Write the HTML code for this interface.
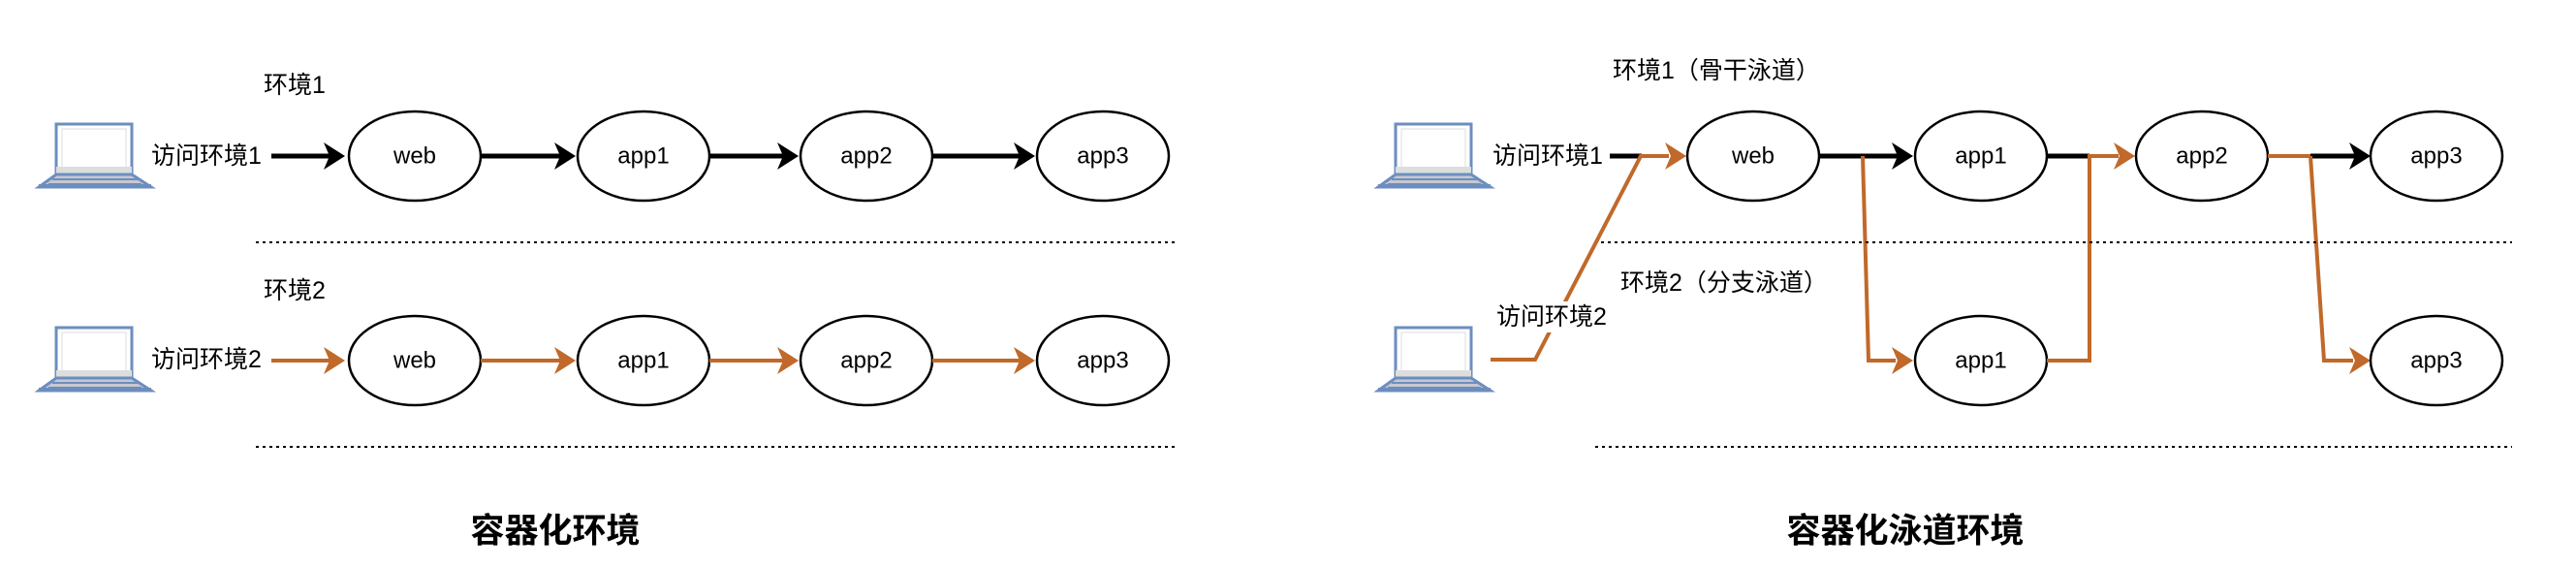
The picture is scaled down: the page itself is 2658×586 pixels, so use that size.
<!DOCTYPE html>
<html><head><meta charset="utf-8"><style>
html,body{margin:0;padding:0;background:#fff;}
svg{display:block;}
text{font-family:"Liberation Sans","Noto Sans CJK SC",sans-serif;}
</style></head><body>
<svg width="2658" height="586" viewBox="0 0 2658 586" xmlns="http://www.w3.org/2000/svg">
<defs>
<marker id="ab" markerWidth="10" markerHeight="10" refX="9" refY="5" orient="auto" markerUnits="userSpaceOnUse" viewBox="0 0 10 10">
</marker>
<g id="laptop">
<rect x="18" y="0" width="78" height="52" fill="#fff" stroke="#6c8ebf" stroke-width="3"/>
<rect x="24" y="5" width="66" height="42" fill="#fff" stroke="#ddd" stroke-width="1"/>
<rect x="18" y="44" width="78" height="8" fill="#ddd"/>
<polygon points="18,52 96,52 116,65 0,65" fill="#c8c8d0" stroke="#6c8ebf" stroke-width="3"/>
<line x1="14" y1="57" x2="102" y2="57" stroke="#6c8ebf" stroke-width="2"/>
<line x1="10" y1="62" x2="106" y2="62" stroke="#6c8ebf" stroke-width="2"/>
<rect x="0" y="62" width="116" height="3" fill="#6c8ebf"/>
</g>
</defs>

<style>
.e{fill:#fff;stroke:#000;stroke-width:2.5}
.n{font-size:24px;text-anchor:middle;dominant-baseline:central}
.l{font-size:25px;dominant-baseline:central}
.k{stroke:#000;stroke-width:5;fill:none}
.o{stroke:#c0692a;stroke-width:4;fill:none}
.d{stroke:#000;stroke-width:2;stroke-dasharray:3,4}
</style>

<!-- LEFT -->
<text class="l" x="272" y="88">环境1</text>
<use href="#laptop" x="40" y="128"/>
<text class="l" x="156" y="161">访问环境1</text>
<line class="k" x1="280" y1="161" x2="340" y2="161"/>
<polygon points="356,161 334,147 340,161 334,175" fill="#000"/>
<ellipse class="e" cx="428" cy="161" rx="68" ry="46"/><text class="n" x="428" y="161">web</text>
<line class="k" x1="496" y1="161" x2="580" y2="161"/>
<polygon points="594,161 572,147 578,161 572,175" fill="#000"/>
<ellipse class="e" cx="664" cy="161" rx="68" ry="46"/><text class="n" x="664" y="161">app1</text>
<line class="k" x1="732" y1="161" x2="810" y2="161"/>
<polygon points="824,161 802,147 808,161 802,175" fill="#000"/>
<ellipse class="e" cx="894" cy="161" rx="68" ry="46"/><text class="n" x="894" y="161">app2</text>
<line class="k" x1="962" y1="161" x2="1054" y2="161"/>
<polygon points="1068,161 1046,147 1052,161 1046,175" fill="#000"/>
<ellipse class="e" cx="1138" cy="161" rx="68" ry="46"/><text class="n" x="1138" y="161">app3</text>
<line class="d" x1="264" y1="250" x2="1216" y2="250"/>

<text class="l" x="272" y="300">环境2</text>
<use href="#laptop" x="40" y="338"/>
<text class="l" x="156" y="371">访问环境2</text>
<line class="o" x1="280" y1="372" x2="340" y2="372"/>
<polygon points="356,372 334,358 340,372 334,386" fill="#c0692a"/>
<ellipse class="e" cx="428" cy="372" rx="68" ry="46"/><text class="n" x="428" y="372">web</text>
<line class="o" x1="496" y1="372" x2="580" y2="372"/>
<polygon points="594,372 572,358 578,372 572,386" fill="#c0692a"/>
<ellipse class="e" cx="664" cy="372" rx="68" ry="46"/><text class="n" x="664" y="372">app1</text>
<line class="o" x1="732" y1="372" x2="810" y2="372"/>
<polygon points="824,372 802,358 808,372 802,386" fill="#c0692a"/>
<ellipse class="e" cx="894" cy="372" rx="68" ry="46"/><text class="n" x="894" y="372">app2</text>
<line class="o" x1="962" y1="372" x2="1054" y2="372"/>
<polygon points="1068,372 1046,358 1052,372 1046,386" fill="#c0692a"/>
<ellipse class="e" cx="1138" cy="372" rx="68" ry="46"/><text class="n" x="1138" y="372">app3</text>
<line class="d" x1="264" y1="461" x2="1216" y2="461"/>

<text x="573" y="548" font-size="35" font-weight="bold" text-anchor="middle" dominant-baseline="central">容器化环境</text>

<!-- RIGHT -->
<text class="l" x="1664" y="73">环境1（骨干泳道）</text>
<use href="#laptop" x="1422" y="128"/>
<text class="l" x="1540" y="161">访问环境1</text>
<line class="k" x1="1661" y1="161" x2="1694" y2="161"/>
<!-- orange from laptop2 -->
<polyline class="o" points="1538,371 1584,371 1693,161 1722,161"/>
<polygon points="1740,161 1718,147 1724,161 1718,175" fill="#c0692a"/>
<rect x="1544" y="311" width="124" height="32" fill="#fff"/>
<text class="l" x="1544" y="327">访问环境2</text>
<use href="#laptop" x="1422" y="338"/>

<ellipse class="e" cx="1809" cy="161" rx="68" ry="46"/><text class="n" x="1809" y="161">web</text>
<line class="k" x1="1877" y1="161" x2="1958" y2="161"/>
<polygon points="1974,161 1952,147 1958,161 1952,175" fill="#000"/>
<polyline class="o" points="1922,161 1928,372 1956,372"/>
<polygon points="1974,372 1952,358 1958,372 1952,386" fill="#c0692a"/>

<ellipse class="e" cx="2044" cy="161" rx="68" ry="46"/><text class="n" x="2044" y="161">app1</text>
<line class="k" x1="2112" y1="161" x2="2156" y2="161"/>
<ellipse class="e" cx="2044" cy="372" rx="68" ry="46"/><text class="n" x="2044" y="372">app1</text>
<polyline class="o" points="2112,372 2156,372 2156,161 2186,161"/>
<polygon points="2203,161 2181,147 2187,161 2181,175" fill="#c0692a"/>

<ellipse class="e" cx="2272" cy="161" rx="68" ry="46"/><text class="n" x="2272" y="161">app2</text>
<line class="o" x1="2340" y1="161" x2="2384" y2="161"/>
<line class="k" x1="2384" y1="161" x2="2430" y2="161"/>
<polygon points="2446,161 2424,147 2430,161 2424,175" fill="#000"/>
<polyline class="o" points="2384,161 2398,372 2428,372"/>
<polygon points="2446,372 2424,358 2430,372 2424,386" fill="#c0692a"/>

<ellipse class="e" cx="2514" cy="161" rx="68" ry="46"/><text class="n" x="2514" y="161">app3</text>
<ellipse class="e" cx="2514" cy="372" rx="68" ry="46"/><text class="n" x="2514" y="372">app3</text>

<line class="d" x1="1652" y1="250" x2="2592" y2="250"/>
<text class="l" x="1672" y="292">环境2（分支泳道）</text>
<line class="d" x1="1646" y1="461" x2="2592" y2="461"/>

<text x="1966" y="548" font-size="35" font-weight="bold" text-anchor="middle" dominant-baseline="central">容器化泳道环境</text>
</svg>
</body></html>
